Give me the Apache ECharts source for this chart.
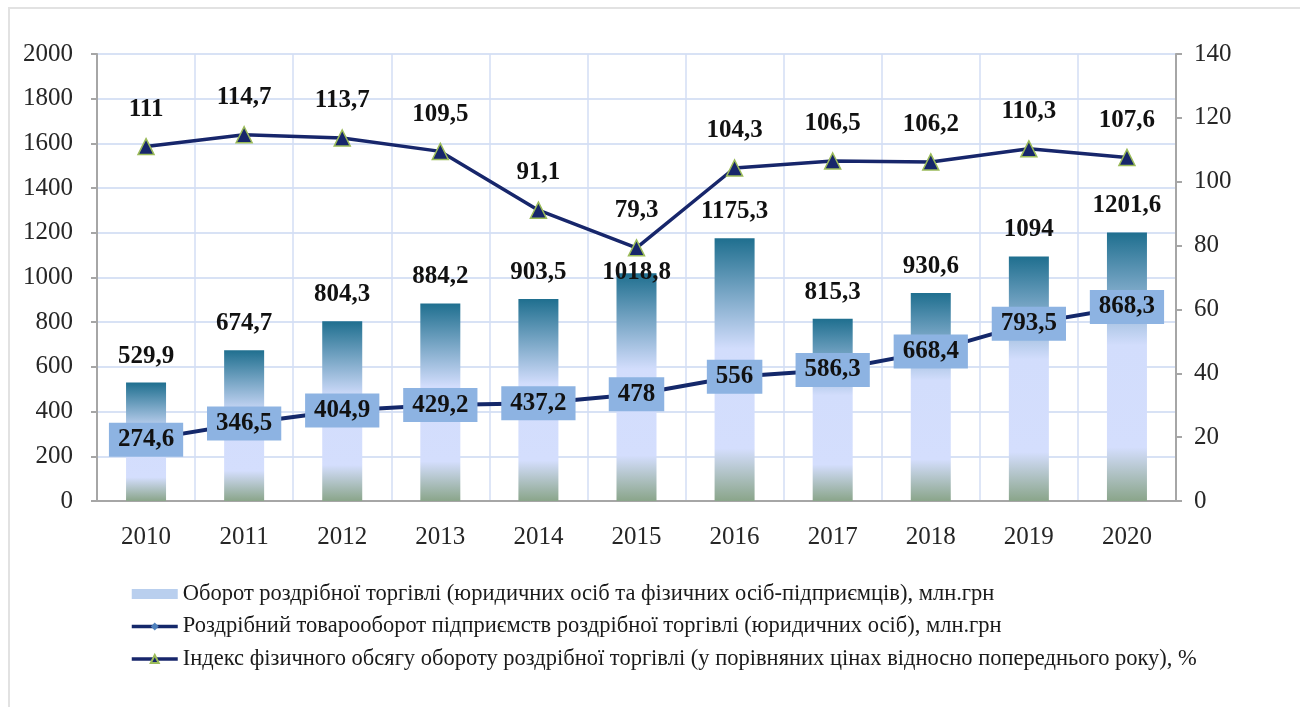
<!DOCTYPE html>
<html>
<head>
<meta charset="utf-8">
<title>Роздрібна торгівля 2010-2020</title>
<script src="https://cdn.jsdelivr.net/npm/echarts@6/dist/echarts.min.js"></script>
<style>
  html, body { margin: 0; padding: 0; background: #fff; }
  #chart { width: 1303px; height: 707px; }
  #frame { position: absolute; left: 8px; top: 7px; width: 1290px; height: 700px;
    border-left: 2px solid #e2e2e2; border-top: 2px solid #e2e2e2; pointer-events: none; }
</style>
</head>
<body>
<div id="chart"></div>
<div id="frame"></div>
<script>
var years = ["2010", "2011", "2012", "2013", "2014", "2015", "2016", "2017", "2018", "2019", "2020"];
// оборот роздрібної торгівлі, млн.грн
var turnover = [529.9, 674.7, 804.3, 884.2, 903.5, 1018.8, 1175.3, 815.3, 930.6, 1094, 1201.6];
// роздрібний товарооборот підприємств, млн.грн
var enterprises = [274.6, 346.5, 404.9, 429.2, 437.2, 478, 556, 586.3, 668.4, 793.5, 868.3];
// індекс фізичного обсягу, %
var indexPct = [111, 114.7, 113.7, 109.5, 91.1, 79.3, 104.3, 106.5, 106.2, 110.3, 107.6];

var names = [
  "Оборот роздрібної торгівлі (юридичних осіб та фізичних осіб-підприємців), млн.грн",
  "Роздрібний товарооборот підприємств роздрібної торгівлі (юридичних осіб), млн.грн",
  "Індекс фізичного обсягу обороту роздрібної торгівлі (у порівняних цінах відносно попереднього року), %"
];

var font = "Liberation Serif";
function comma(p) { return String(p.value).replace(".", ","); }
function plain(v) { return String(v); }

var barGradient = new echarts.graphic.LinearGradient(0, 0, 0, 1, [
  { offset: 0, color: "#1f6f8f" },
  { offset: 0.42, color: "#d2ddfc" },
  { offset: 0.8, color: "#d4defd" },
  { offset: 1, color: "#8aa58a" }
]);

var chart = echarts.init(document.getElementById("chart"));
var option = {
  backgroundColor: "#ffffff",
  animation: false,
  grid: { left: 97, right: 127, top: 54, bottom: 206 },
  legend: {
    orient: "vertical",
    left: 125,
    top: 577,
    itemWidth: 46,
    itemHeight: 10,
    itemGap: 8.5,
    textStyle: { fontFamily: font, fontSize: 22.5, color: "#1a1a1a", lineHeight: 24 },
    data: [
      { name: names[0], icon: "rect", itemStyle: { color: "#b9cfee" } },
      { name: names[1], lineStyle: { width: 3.5 } },
      { name: names[2], lineStyle: { width: 3.5 } }
    ]
  },
  xAxis: {
    type: "category",
    data: years,
    axisLine: { lineStyle: { color: "#a6a6a6", width: 2 } },
    axisTick: { length: 6, lineStyle: { color: "#a6a6a6", width: 2 } },
    axisLabel: { fontFamily: font, fontSize: 25, color: "#262626", margin: 24 },
    splitLine: { show: true, lineStyle: { color: "#d3def5", width: 1.5 } }
  },
  yAxis: [
    {
      type: "value", min: 0, max: 2000, interval: 200,
      axisLine: { show: true, lineStyle: { color: "#a6a6a6", width: 2 } },
      axisTick: { show: true, length: 6, lineStyle: { color: "#a6a6a6", width: 2 } },
      axisLabel: { fontFamily: font, fontSize: 25, color: "#262626", margin: 24, formatter: plain },
      splitLine: { lineStyle: { color: "#cbd9f2", width: 1.5 } }
    },
    {
      type: "value", min: 0, max: 140, interval: 20,
      axisLine: { show: true, lineStyle: { color: "#a6a6a6", width: 2 } },
      axisTick: { show: true, length: 6, lineStyle: { color: "#a6a6a6", width: 2 } },
      axisLabel: { fontFamily: font, fontSize: 25, color: "#262626", margin: 18, formatter: plain },
      splitLine: { show: false }
    }
  ],
  series: [
    {
      name: names[0],
      type: "bar",
      barWidth: 40,
      itemStyle: { color: barGradient },
      label: {
        show: true, position: "top", distance: 14, formatter: comma,
        fontFamily: font, fontSize: 25, fontWeight: "bold", color: "#111"
      },
      data: turnover.map(function (v, i) {
        // у 2015 підпис опущено нижче, щоб не налазив на маркер індексу
        return i === 5 ? { value: v, label: { offset: [0, 26] } } : v;
      }),
      z: 2
    },
    {
      name: names[1],
      type: "line",
      data: enterprises,
      symbol: "diamond",
      symbolSize: 12,
      itemStyle: { color: "#4f81bd" },
      lineStyle: { color: "#14286a", width: 4 },
      label: {
        show: true, position: "inside", formatter: comma,
        fontFamily: font, fontSize: 25, fontWeight: "bold", color: "#111",
        backgroundColor: "#8db3e2", padding: [5, 9, 4, 9]
      },
      z: 4
    },
    {
      name: names[2],
      type: "line",
      yAxisIndex: 1,
      data: indexPct,
      symbol: "triangle",
      symbolSize: 16,
      itemStyle: { color: "#17266b", borderColor: "#9bbb59", borderWidth: 1.5 },
      lineStyle: { color: "#17266b", width: 3.5 },
      label: {
        show: true, position: "top", distance: 16, formatter: comma,
        fontFamily: font, fontSize: 25, fontWeight: "bold", color: "#111"
      },
      z: 5
    }
  ]
};
chart.setOption(option);
</script>
</body>
</html>
